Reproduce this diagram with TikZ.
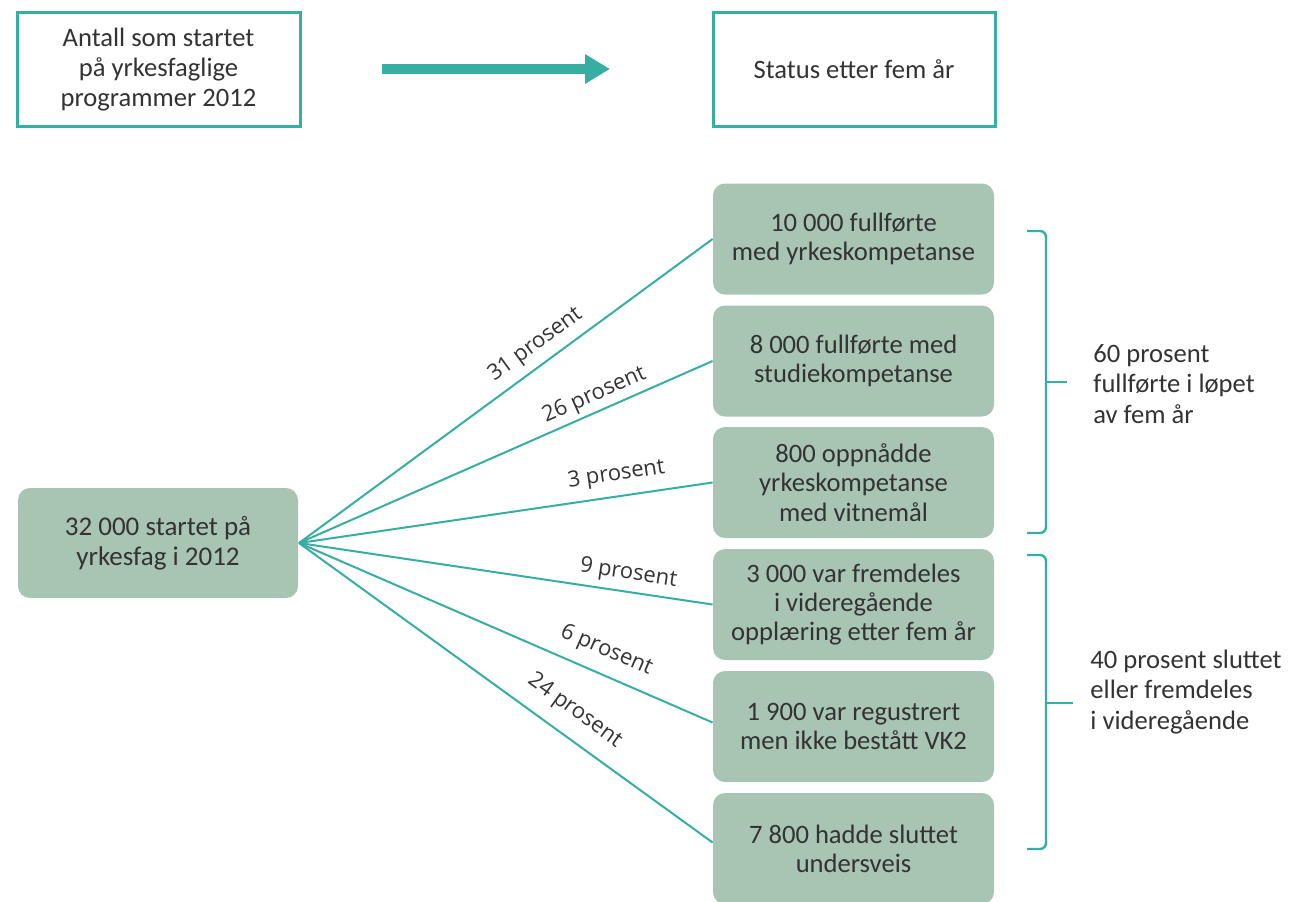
\documentclass[tikz,border=0pt]{standalone}
\usepackage{fontspec}
\setmainfont{Carlito}
\newfontfamily\labelfont{Open Sans}
\usetikzlibrary{arrows.meta}
\definecolor{teal1}{HTML}{36AEA2}
\definecolor{boxgreen}{HTML}{A8C4B3}
\definecolor{txt}{HTML}{333333}
\tikzset{
  headbox/.style={draw=teal1, line width=1.5pt, fill=white, minimum width=141.5pt, minimum height=57pt, align=center, inner sep=2pt, text=txt, font=\fontsize{13.3}{15}\selectfont},
  startbox/.style={fill=boxgreen, rounded corners=6pt, minimum width=140pt, minimum height=55pt, align=center, text=txt, font=\fontsize{13.5}{15}\selectfont},
  outbox/.style={fill=boxgreen, rounded corners=6pt, minimum width=140.5pt, minimum height=55.5pt, align=center, text=txt, inner sep=1pt, font=\fontsize{13.3}{14.6}\selectfont},
  fanline/.style={draw=teal1, line width=1pt},
  lbl/.style={sloped, inner sep=0pt, text=txt, font=\labelfont\fontsize{11}{13}\selectfont},
  bracket/.style={draw=teal1, line width=1.2pt, rounded corners=3pt},
  sumtext/.style={anchor=west, align=left, text=txt, inner sep=0pt, font=\fontsize{13.3}{15.2}\selectfont},
  bigarrow/.style={draw=teal1, line width=5pt, -{Triangle[length=12.5pt, width=14pt]}}
}
\begin{document}
\begin{tikzpicture}[x=0.5pt, y=-0.5pt]
\useasboundingbox (0,0) rectangle (1294,901);
% header
\node[headbox] (hl) at (158.5,69.5) {Antall som startet\\på yrkesfaglige\\programmer 2012};
\node[headbox, minimum width=141pt] (hr) at (854,69.5) {Status etter fem år};
\coordinate (as) at (382,69);
\coordinate (ae) at (610,69);
\draw[bigarrow] (as) -- (ae);
% start
\node[startbox] (s) at (158,543) {32 000 startet på\\yrkesfag i 2012};
% outcome boxes
\node[outbox] (b1) at (853.5,239) {10 000 fullførte\\med yrkeskompetanse};
\node[outbox] (b2) at (853.5,361) {8 000 fullførte med\\studiekompetanse};
\node[outbox] (b3) at (853.5,482.5) {800 oppnådde\\yrkeskompetanse\\med vitnemål};
\node[outbox] (b4) at (853.5,604.5) {3 000 var fremdeles\\i videregående\\opplæring etter fem år};
\node[outbox] (b5) at (853.5,726.5) {1 900 var regustrert\\men ikke bestått VK2};
\node[outbox] (b6) at (853.5,848.5) {7 800 hadde sluttet\\undersveis};
% fan lines
\coordinate (o) at (299,543);
\draw[fanline] (o) -- (b1.west) node[lbl, pos=0.60, above=4pt] {31 prosent};
\draw[fanline] (o) -- (b2.west) node[lbl, pos=0.73, above=2.2pt] {26 prosent};
\draw[fanline] (o) -- (b3.west) node[lbl, pos=0.775, above=5pt] {3 prosent};
\draw[fanline] (o) -- (b4.west) node[lbl, pos=0.79, above=3.2pt] {9 prosent};
\draw[fanline] (o) -- ([yshift=2pt]b5.west) node[lbl, pos=0.72, above=6pt] {6 prosent};
\draw[fanline] (o) -- ([yshift=3pt]b6.west) node[lbl, pos=0.63, above=7pt] {24 prosent};
% brackets
\coordinate (k1t) at (1027,231);
\coordinate (k1a) at (1046,231);
\coordinate (k1b) at (1046,533);
\coordinate (k1e) at (1027,533);
\coordinate (k1m) at (1046,382);
\coordinate (k1n) at (1067,382);
\draw[bracket] (k1t) -- (k1a) -- (k1b) -- (k1e);
\draw[bracket] (k1m) -- (k1n);
\coordinate (k2t) at (1027,555);
\coordinate (k2a) at (1046,555);
\coordinate (k2b) at (1046,849);
\coordinate (k2e) at (1027,849);
\coordinate (k2m) at (1046,703);
\coordinate (k2n) at (1073,703);
\draw[bracket] (k2t) -- (k2a) -- (k2b) -- (k2e);
\draw[bracket] (k2m) -- (k2n);
% summary texts
\node[sumtext] (t1) at (1093,384) {60 prosent\\fullførte i løpet\\av fem år};
\node[sumtext] (t2) at (1090,692) {40 prosent sluttet\\eller fremdeles\\i videregående};
\end{tikzpicture}
\end{document}
